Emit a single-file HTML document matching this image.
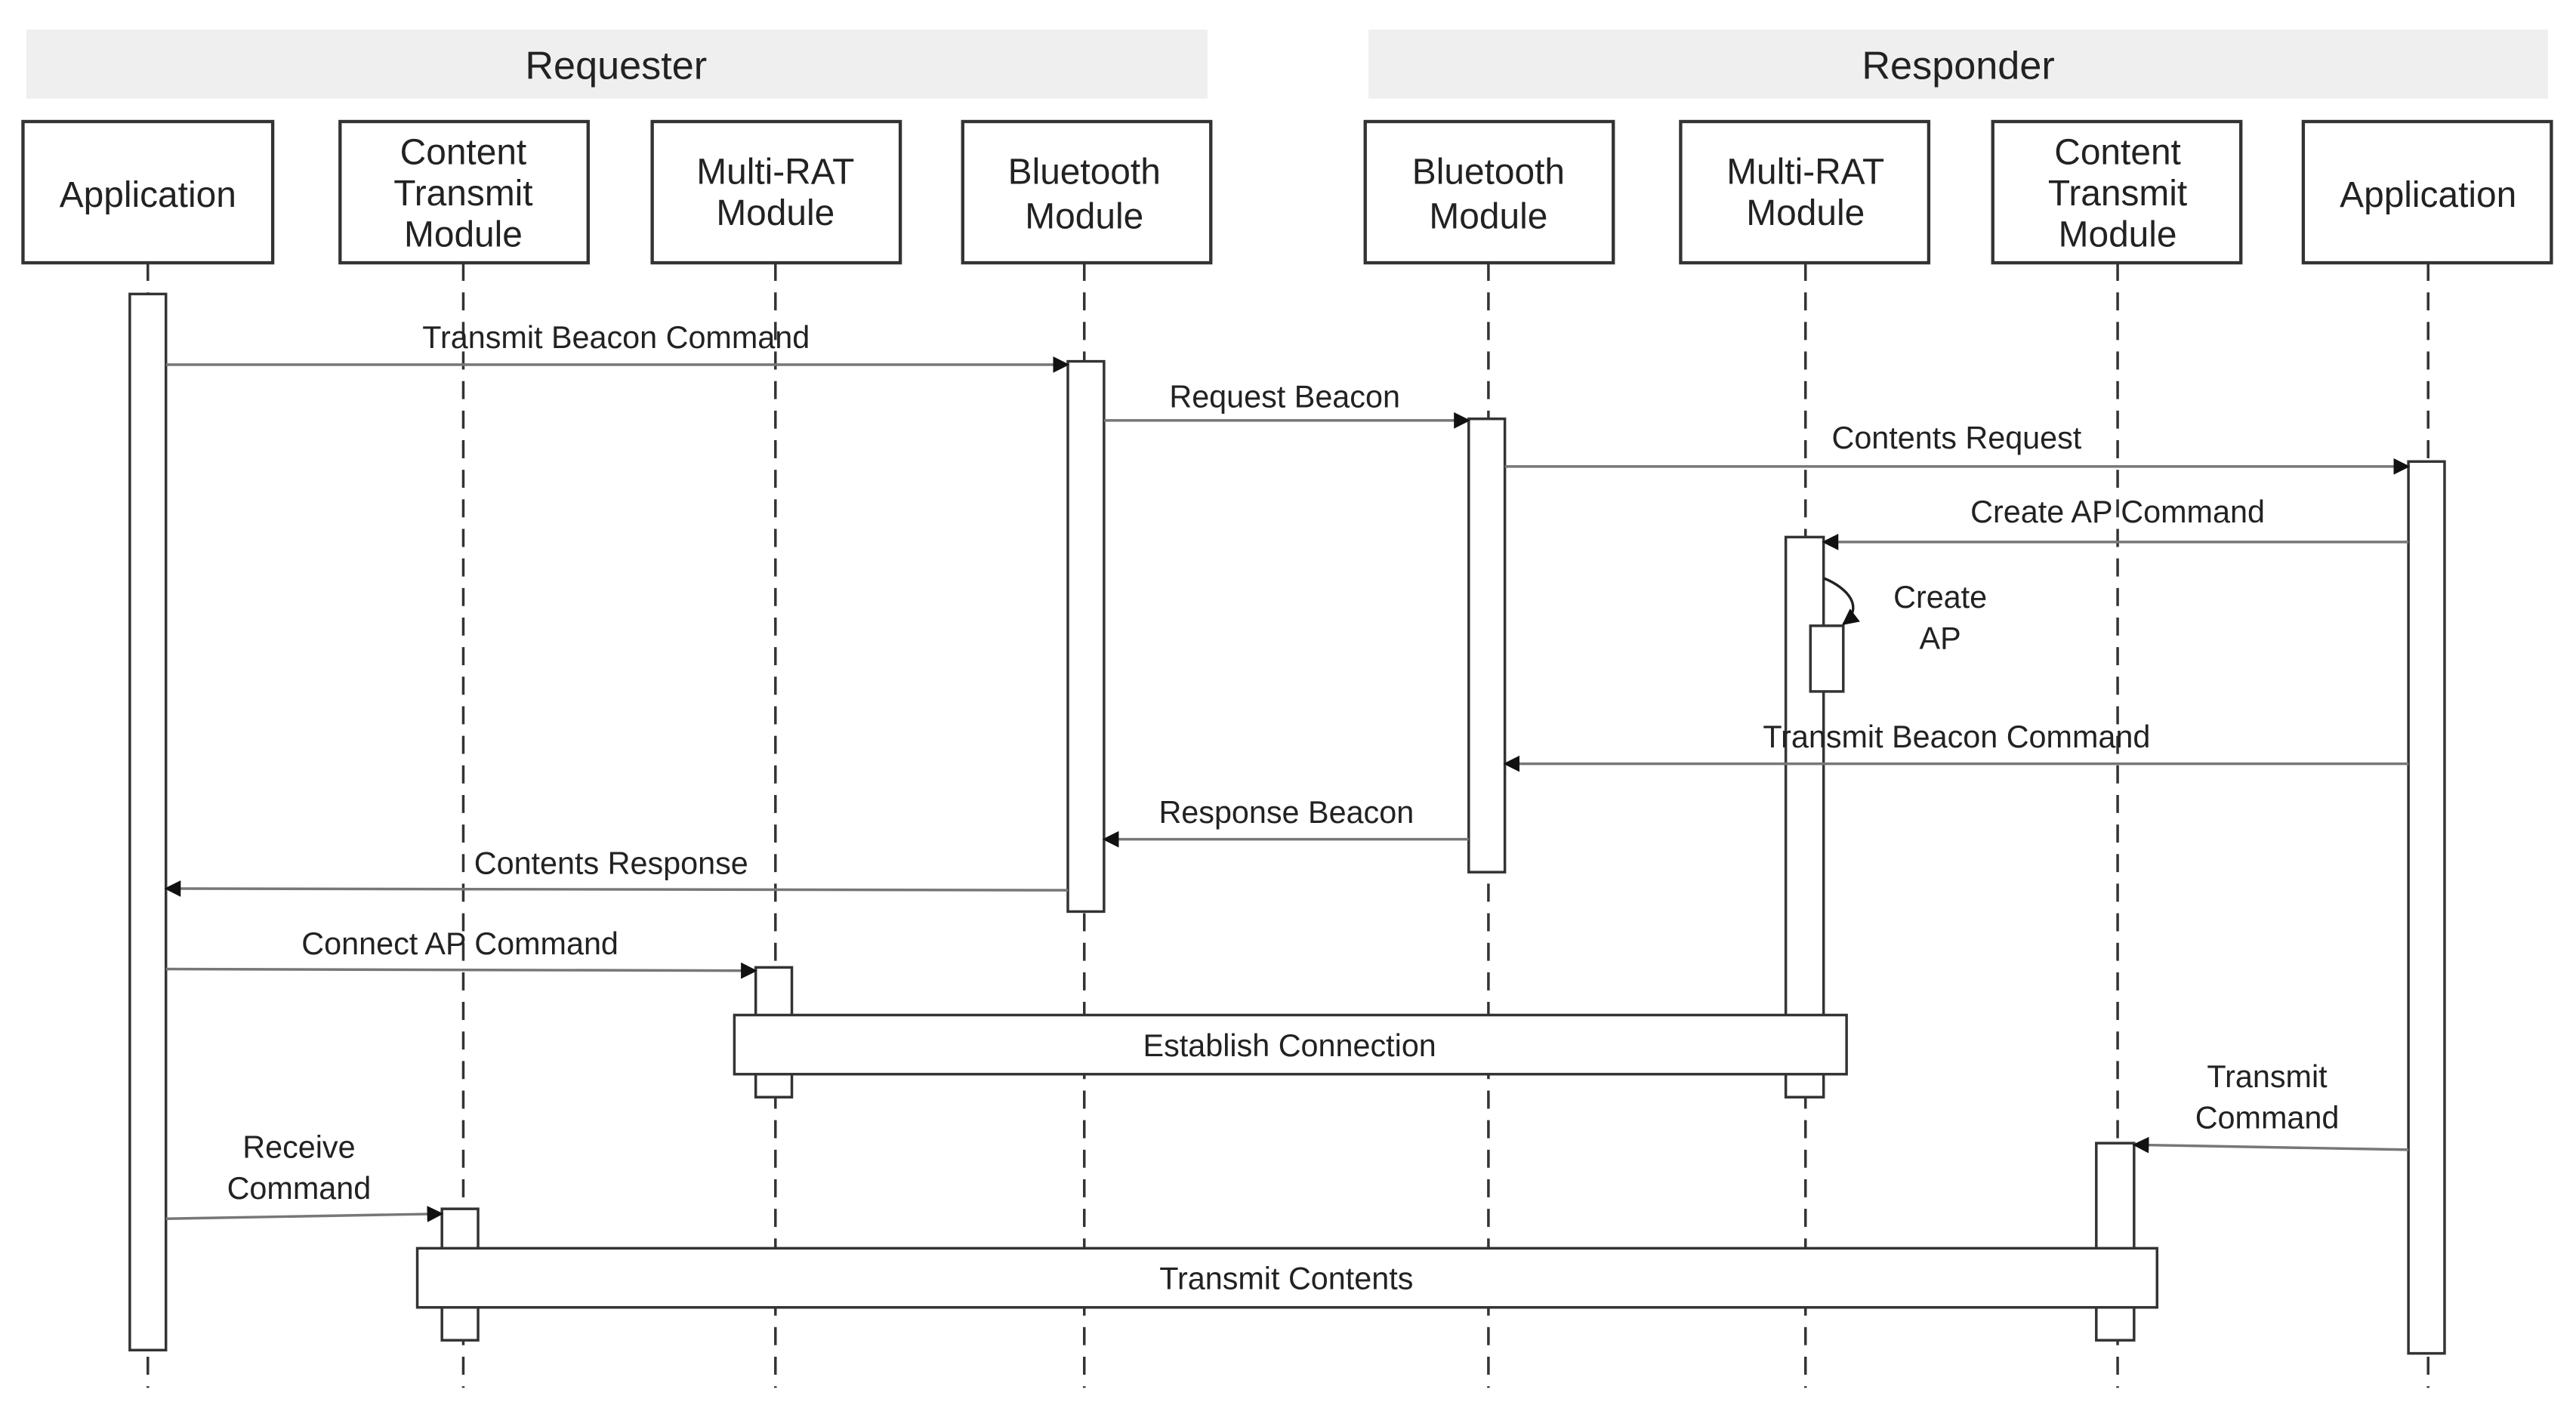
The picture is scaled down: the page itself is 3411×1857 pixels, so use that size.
<!DOCTYPE html>
<html><head><meta charset="utf-8"><style>html,body{margin:0;padding:0;background:#fff;}svg{display:block}</style></head>
<body>
<svg width="3411" height="1857" viewBox="0 0 1568 853.6" preserveAspectRatio="none" xmlns="http://www.w3.org/2000/svg" font-family="Liberation Sans, sans-serif">
<defs><marker id="a" markerWidth="10" markerHeight="10" refX="9" refY="5" orient="auto" markerUnits="userSpaceOnUse"><path d="M0,0 L10,5 L0,10 z" fill="#111"/></marker></defs>
<rect width="1568" height="854" fill="#fff"/>
<rect x="16" y="18" width="719" height="42" fill="#efefef"/>
<rect x="833" y="18" width="718" height="42" fill="#efefef"/>
<g font-size="24" fill="#222" text-anchor="middle">
<text x="375" y="48">Requester</text><text x="1192" y="48">Responder</text></g>
<!-- lifelines -->
<g stroke="#333" stroke-width="1.6" stroke-dasharray="11,7">
<line x1="90" y1="160" x2="90" y2="845"/><line x1="282" y1="160" x2="282" y2="845"/>
<line x1="472" y1="160" x2="472" y2="845"/><line x1="660" y1="160" x2="660" y2="845"/>
<line x1="906" y1="160" x2="906" y2="845"/><line x1="1099" y1="160" x2="1099" y2="845"/>
<line x1="1289" y1="160" x2="1289" y2="845"/><line x1="1478" y1="160" x2="1478" y2="845"/>
</g>
<!-- boxes -->
<g fill="#fff" stroke="#333" stroke-width="2">
<rect x="14" y="74" width="152" height="86"/><rect x="207" y="74" width="151" height="86"/>
<rect x="397" y="74" width="151" height="86"/><rect x="586" y="74" width="151" height="86"/>
<rect x="831" y="74" width="151" height="86"/><rect x="1023" y="74" width="151" height="86"/>
<rect x="1213" y="74" width="151" height="86"/><rect x="1402" y="74" width="151" height="86"/>
</g>
<g font-size="22" fill="#222" text-anchor="middle">
<text x="90" y="126">Application</text>
<text x="282" y="100">Content</text><text x="282" y="125">Transmit</text><text x="282" y="150">Module</text>
<text x="472" y="112">Multi-RAT</text><text x="472" y="137">Module</text>
<text x="660" y="112">Bluetooth</text><text x="660" y="139">Module</text>
<text x="906" y="112">Bluetooth</text><text x="906" y="139">Module</text>
<text x="1099" y="112">Multi-RAT</text><text x="1099" y="137">Module</text>
<text x="1289" y="100">Content</text><text x="1289" y="125">Transmit</text><text x="1289" y="150">Module</text>
<text x="1478" y="126">Application</text>
</g>
<!-- activations -->
<g fill="#fff" stroke="#333" stroke-width="1.6">
<rect x="79" y="179" width="22" height="643"/>
<rect x="650" y="220" width="22" height="335"/>
<rect x="894" y="255" width="22" height="276"/>
<rect x="1466" y="281" width="22" height="543"/>
<rect x="1087" y="327" width="23" height="341"/>
<rect x="1102" y="381" width="20" height="40"/>
<rect x="460" y="589" width="22" height="79"/>
<rect x="269" y="736" width="22" height="80"/>
<rect x="1276" y="696" width="23" height="120"/>
<rect x="447" y="618" width="677" height="36"/>
<rect x="254" y="760" width="1059" height="36"/>
</g>
<g font-size="19" fill="#222" text-anchor="middle">
<text x="785" y="643">Establish Connection</text>
<text x="783" y="785">Transmit Contents</text>
</g>
<!-- messages -->
<g stroke="#777" stroke-width="1.6" fill="none" marker-end="url(#a)">
<line x1="101" y1="222" x2="650" y2="222"/>
<line x1="672" y1="256" x2="894" y2="256"/>
<line x1="916" y1="284" x2="1466" y2="284"/>
<line x1="1466" y1="330" x2="1110" y2="330"/>
<line x1="1466" y1="465" x2="916" y2="465"/>
<line x1="894" y1="511" x2="672" y2="511"/>
<line x1="650" y1="542" x2="101" y2="541"/>
<line x1="101" y1="590" x2="460" y2="591"/>
<line x1="1466" y1="700" x2="1299" y2="697"/>
<line x1="101" y1="742" x2="269" y2="739"/>
<path d="M1110,352 C1125,358 1135,370 1122,380" stroke="#222"/>
</g>
<g font-size="19" fill="#222" text-anchor="middle">
<text x="375" y="212">Transmit Beacon Command</text>
<text x="782" y="248">Request Beacon</text>
<text x="1191" y="273">Contents Request</text>
<text x="1289" y="318">Create AP Command</text>
<text x="1181" y="370">Create</text><text x="1181" y="395">AP</text>
<text x="1191" y="455">Transmit Beacon Command</text>
<text x="783" y="501">Response Beacon</text>
<text x="372" y="532">Contents Response</text>
<text x="280" y="581">Connect AP Command</text>
<text x="1380" y="662">Transmit</text><text x="1380" y="687">Command</text>
<text x="182" y="705">Receive</text><text x="182" y="730">Command</text>
</g>
</svg>
</body></html>
